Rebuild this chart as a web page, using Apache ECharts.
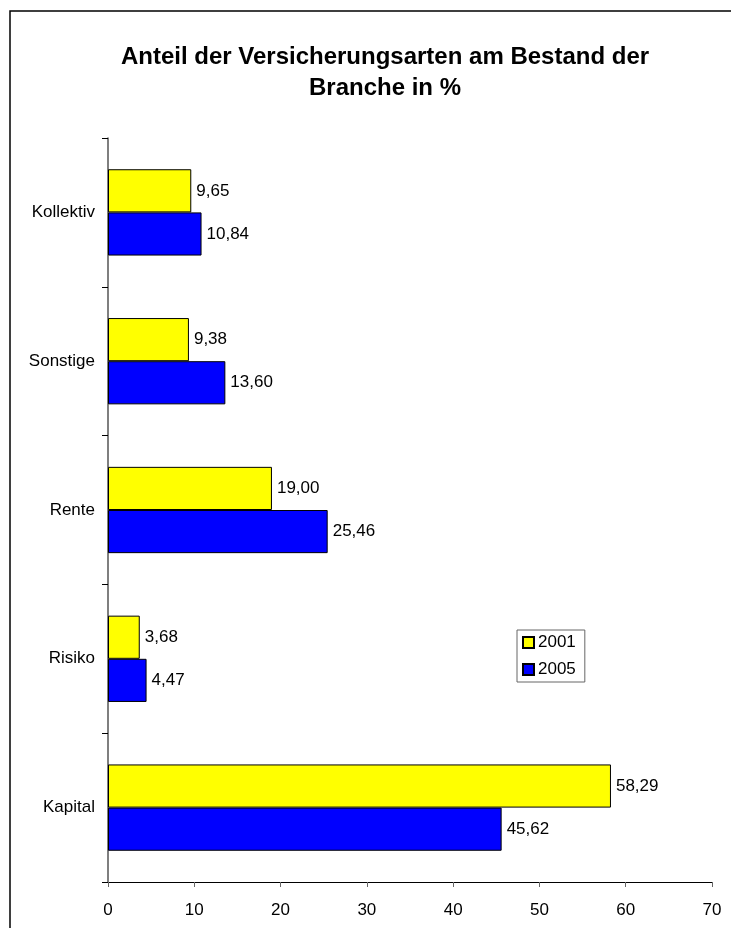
<!DOCTYPE html>
<html>
<head>
<meta charset="utf-8">
<script src="https://cdn.jsdelivr.net/npm/echarts@6/dist/echarts.min.js"></script>
<style>
  html, body { margin: 0; padding: 0; background: #fff; }
  #chart { width: 731px; height: 928px; }
</style>
</head>
<body>
<div id="chart"></div>
<script>
// Categories listed bottom to top (category axis on y starts at the bottom)
const categories = ['Kapital', 'Risiko', 'Rente', 'Sonstige', 'Kollektiv'];
const values2001 = [58.29, 3.68, 19.00, 9.38, 9.65];
const values2005 = [45.62, 4.47, 25.46, 13.60, 10.84];
const seriesNames = ['2001', '2005'];
const xTicks = { min: 0, max: 70, interval: 10 };

const FONT = '"Liberation Sans", Arial, sans-serif';
const fmt = v => v.toFixed(2).replace('.', ',');

const chart = echarts.init(document.getElementById('chart'), null, { renderer: 'canvas' });

const labelStyle = {
  show: true,
  position: 'right',
  distance: 5,
  color: '#000',
  fontFamily: FONT,
  fontSize: 17,
  formatter: p => fmt(p.value)
};

chart.setOption({
  animation: false,
  backgroundColor: '#fff',
  title: {
    text: 'Anteil der Versicherungsarten am Bestand der\nBranche in %',
    left: 380,
    top: 37,
    textAlign: 'center',
    textStyle: {
      fontFamily: FONT,
      fontWeight: 'bold',
      fontSize: 24,
      lineHeight: 31,
      color: '#000'
    }
  },
  legend: {
    data: seriesNames,
    orient: 'vertical',
    left: 517,
    top: 630,
    padding: [4, 9, 4, 5],
    itemWidth: 11,
    itemHeight: 11,
    itemGap: 10,
    borderColor: '#666',
    borderWidth: 1,
    backgroundColor: '#fff',
    icon: 'rect',
    textStyle: { fontFamily: FONT, fontSize: 17, lineHeight: 17, color: '#000', padding: [0, 0, 0, -1] }
  },
  grid: { left: 108, right: 19, top: 138, bottom: 46, containLabel: false },
  xAxis: {
    type: 'value',
    min: xTicks.min,
    max: xTicks.max,
    interval: xTicks.interval,
    axisLine: { show: true, lineStyle: { color: '#000', width: 1 } },
    axisTick: { show: true, length: 5, lineStyle: { color: '#666' } },
    splitLine: { show: false },
    axisLabel: { fontFamily: FONT, fontSize: 17, color: '#000', margin: 20 }
  },
  yAxis: {
    type: 'category',
    data: categories,
    axisLine: { show: true, onZero: false, lineStyle: { color: '#555', width: 1.5 } },
    axisTick: { show: true, length: 6, alignWithLabel: false, lineStyle: { color: '#000' } },
    axisLabel: { fontFamily: FONT, fontSize: 17, color: '#000', margin: 13 },
    splitLine: { show: false }
  },
  series: [
    {
      name: seriesNames[0],
      type: 'bar',
      data: values2001,
      barGap: '0%',
      barCategoryGap: '42%',
      itemStyle: { color: '#ffff00', borderColor: '#000', borderWidth: 1 },
      label: labelStyle
    },
    {
      name: seriesNames[1],
      type: 'bar',
      data: values2005,
      barGap: '0%',
      barCategoryGap: '42%',
      itemStyle: { color: '#0000ff', borderColor: '#000', borderWidth: 1 },
      label: labelStyle
    }
  ],
  graphic: [
    {
      type: 'rect',
      shape: { x: 10, y: 11, width: 760, height: 960 },
      style: { fill: null, stroke: '#000', lineWidth: 1.5 },
      silent: true,
      z: 100
    }
  ]
});
</script>
</body>
</html>
